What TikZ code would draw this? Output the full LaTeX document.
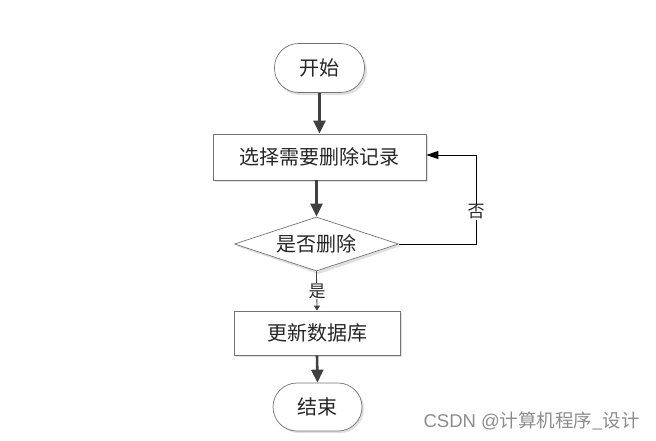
\documentclass[tikz,border=0pt]{standalone}
\usepackage{fontspec}
\newfontfamily\cjk{Noto Sans CJK SC}
\usetikzlibrary{arrows.meta,shapes.geometric}
\begin{document}
\begin{tikzpicture}[x=1pt,y=-1pt,
  base/.style={draw=black!55,line width=0.7pt,fill=white,font=\cjk\fontsize{20}{20}\selectfont,text=black!85},
  term/.style={base,rounded corners=24pt,minimum width=90pt,minimum height=49pt,inner sep=0pt},
  proc/.style={base,rectangle,inner sep=0pt},
  dec/.style={base,diamond,aspect=3.1,inner sep=0pt},
  flow/.style={draw=black!75,line width=2.6pt,-{Triangle[width=12pt,length=13pt]}},
  thin/.style={draw=black,line width=0.8pt,-{Triangle[width=8pt,length=12pt]}},
  lab/.style={fill=white,font=\cjk\fontsize{17}{17}\selectfont,inner sep=1pt,text=black!85}
]
\useasboundingbox (0,0) rectangle (656,440);
% shadows
\fill[black!12,rounded corners=24pt] (276,46) rectangle (367,95);
\fill[black!12] (215,136) rectangle (428,182);
\fill[black!12] (318.5,219) -- (401,246) -- (318.5,274) -- (236,246) -- cycle;
\fill[black!12] (236,313) rectangle (402,357);
\fill[black!12,rounded corners=24pt] (275,385) rectangle (364,433);
% nodes
\node[term] (start) at (319.5,68) {开始};
\node[proc,minimum width=213pt,minimum height=46pt] (sel) at (319.5,157) {选择需要删除记录};
\node[dec,minimum width=164pt,minimum height=54pt] (dq) at (316.5,244) {是否删除};
\node[proc,minimum width=166pt,minimum height=44pt] (upd) at (317,333) {更新数据库};
\node[term,minimum width=89pt,minimum height=48pt] (end) at (317.5,407) {结束};
% connectors
\draw[flow] (start.south) -- (sel.north);
\draw[flow] (sel.south -| dq.north) -- (dq.north);
\draw[flow] (upd.south) -- (end.north);
\coordinate (c1) at (476,244);
\coordinate (c2) at (476,155);
\draw[thin] (dq.east) -- (c1) -- (c2) -- (sel.east |- c2);
\node[lab] at (476,212) {否};
\draw[black!75,line width=0.8pt,-{Triangle[width=6pt,length=5pt]}] (dq.south) -- (upd.north);
\node[lab] at (317,291) {是};
% watermark
\node[font=\fontspec{Liberation Sans}\fontsize{18.5}{18.5}\selectfont,text=black!45,anchor=east,inner sep=0pt] (wm) at (640,421) {CSDN @{\cjk 计算机程序\_设计}};
\end{tikzpicture}
\end{document}
